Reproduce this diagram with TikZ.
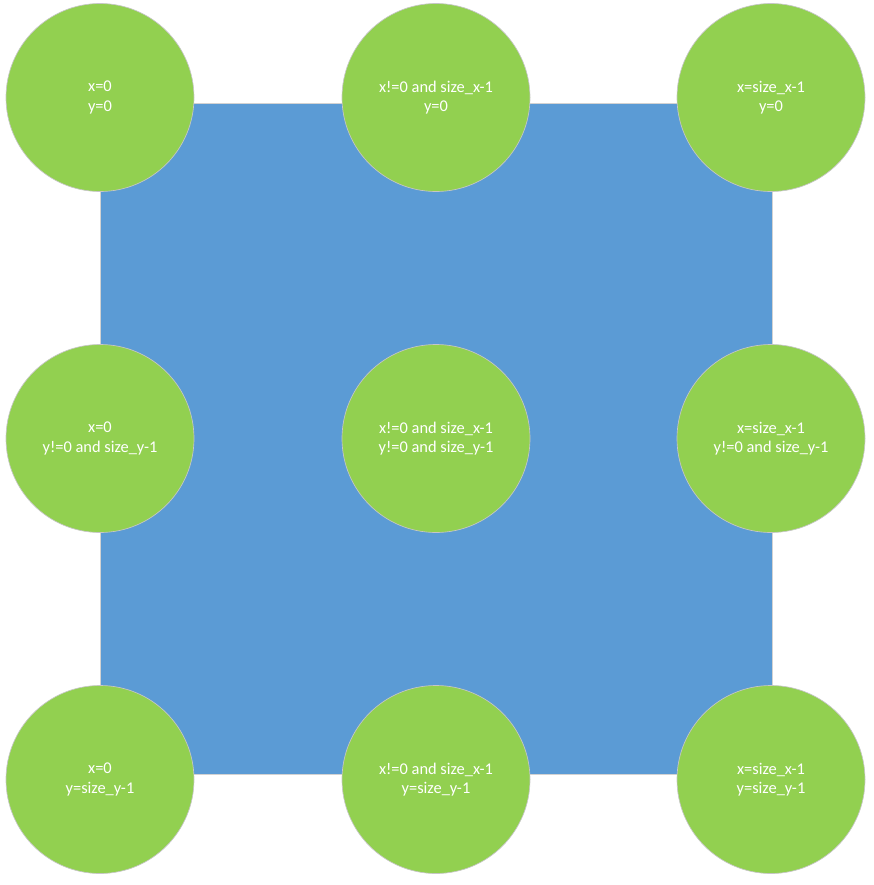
\documentclass[tikz,border=0pt]{standalone}
\usepackage{fontspec}
\setmainfont{Carlito}
\usepackage{tikz}
\usetikzlibrary{positioning}
\definecolor{azul}{HTML}{5B9BD5}
\definecolor{verde}{HTML}{92D050}

\begin{document}
\begin{tikzpicture}[x=0.75pt, y=-0.75pt,
		every node/.style={text=white, align=center},
		caja/.style={rectangle, fill=azul, draw=gray!35, line width=0.4pt},
		bola/.style={circle, fill=verde, draw=gray!45, line width=0.5pt, minimum size=141pt, inner sep=0pt, font=\fontsize{12.3}{14.6}\selectfont}
		]
		\useasboundingbox (0,0) rectangle (874,885);
		
		% Cuadro de fondo
		\node[caja, minimum width=504pt, minimum height=503.25pt, inner sep=0pt] (malla) at (436,438.5) {};
		
		% Fila superior
		\node[bola] (sup1) at (100,97.5) {x=0\\y=0};
		\node[bola] (sup2) at (436,97.5) {x!=0 and size\_x-1\\y=0};
		\node[bola] (sup3) at (771,97.5) {x=size\_x-1\\y=0};
		
		% Fila central
		\node[bola] (cen1) at (100,438.5) {x=0\\y!=0 and size\_y-1};
		\node[bola] (cen2) at (436,438.5) {x!=0 and size\_x-1\\y!=0 and size\_y-1};
		\node[bola] (cen3) at (771,438.5) {x=size\_x-1\\y!=0 and size\_y-1};
		
		% Fila inferior
		\node[bola] (inf1) at (100,779.5) {x=0\\y=size\_y-1};
		\node[bola] (inf2) at (436,779.5) {x!=0 and size\_x-1\\y=size\_y-1};
		\node[bola] (inf3) at (771,779.5) {x=size\_x-1\\y=size\_y-1};
		
	\end{tikzpicture}
\end{document}
